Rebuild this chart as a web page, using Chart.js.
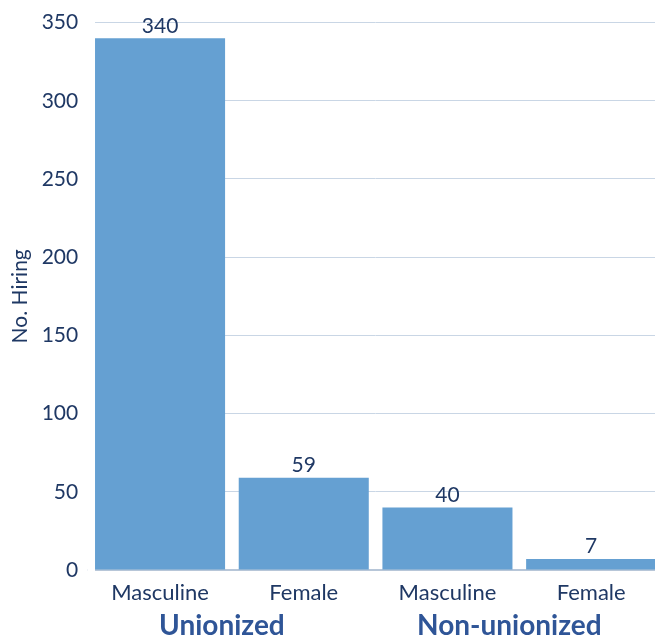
<!DOCTYPE html>
<html>
<head>
<meta charset="utf-8">
<script src="https://cdn.jsdelivr.net/npm/chart.js@4.4.1/dist/chart.umd.min.js"></script>
<style>
  html, body { margin: 0; padding: 0; background: #fff; overflow: hidden; width: 655px; height: 635px; }
  #wrap { position: absolute; left: 0; top: 0; width: 663px; height: 635px; }
</style>
</head>
<body>
<div id="wrap"><canvas id="c"></canvas></div>
<script>
const categories = ["Masculine", "Female", "Masculine", "Female"];
const groups = ["Unionized", "Non-unionized"];
const hiring = [340, 59, 40, 7];
const yTicks = [0, 50, 100, 150, 200, 250, 300, 350];

const navy = "#1F3864";
const barColor = "#65A0D2";

const valueLabels = {
  id: "valueLabels",
  afterDatasetsDraw(chart) {
    const ctx = chart.ctx;
    const meta = chart.getDatasetMeta(0);
    ctx.save();
    ctx.fillStyle = navy;
    ctx.font = "21px Lato";
    ctx.textAlign = "center";
    ctx.textBaseline = "bottom";
    meta.data.forEach((el, i) => {
      ctx.fillText(String(chart.data.datasets[0].data[i]), el.x, el.y - 2);
    });
    ctx.restore();
  }
};

const leftGapMask = {
  id: "leftGapMask",
  beforeDatasetsDraw(chart) {
    const meta = chart.getDatasetMeta(0);
    const el = meta.data[0];
    if (!el) return;
    const barLeft = el.x - el.width / 2;
    const a = chart.chartArea;
    const ctx = chart.ctx;
    ctx.save();
    ctx.fillStyle = "#ffffff";
    ctx.fillRect(a.left - 1, a.top - 3, barLeft - a.left + 1, a.bottom - a.top + 6);
    ctx.restore();
  }
};

new Chart(document.getElementById("c"), {
  type: "bar",
  data: {
    labels: categories,
    datasets: [{
      data: hiring,
      backgroundColor: barColor,
      borderWidth: 0,
      barPercentage: 0.905,
      categoryPercentage: 1.0,
      xAxisID: "x",
      yAxisID: "y"
    }]
  },
  options: {
    responsive: true,
    maintainAspectRatio: false,
    animation: false,
    layout: { padding: { left: 0, right: 0, top: 0, bottom: 0 } },
    plugins: {
      legend: { display: false },
      tooltip: { enabled: false }
    },
    scales: {
      x: {
        type: "category",
        position: "bottom",
        offset: true,
        grid: { display: false },
        border: { display: true, color: "#B7C6D8", width: 2 },
        ticks: { color: navy, font: { family: "Lato", size: 22 }, padding: 2, maxRotation: 0 },
        afterFit(s) { s.height = 31; }
      },
      x2: {
        type: "category",
        position: "bottom",
        labels: groups,
        offset: true,
        grid: { display: false },
        border: { display: false },
        ticks: { color: "#2F5597", font: { family: "Lato", size: 28, weight: "bold" }, padding: 0, labelOffset: -10, maxRotation: 0 },
        afterFit(s) { s.height = 34; }
      },
      y: {
        min: 0,
        max: 350,
        afterBuildTicks(s) { s.ticks = yTicks.map(v => ({ value: v })); },
        grid: { color: "#C9D6E5", lineWidth: 1, drawTicks: false },
        border: { display: false },
        ticks: { color: navy, font: { family: "Lato", size: 21 }, padding: 10 },
        title: { display: true, text: "No. Hiring", color: navy, font: { family: "Lato", size: 21 }, padding: { top: 8, bottom: 0 } },
        afterFit(s) { s.width = 88.2; }
      }
    }
  },
  plugins: [leftGapMask, valueLabels]
});
</script>
</body>
</html>
